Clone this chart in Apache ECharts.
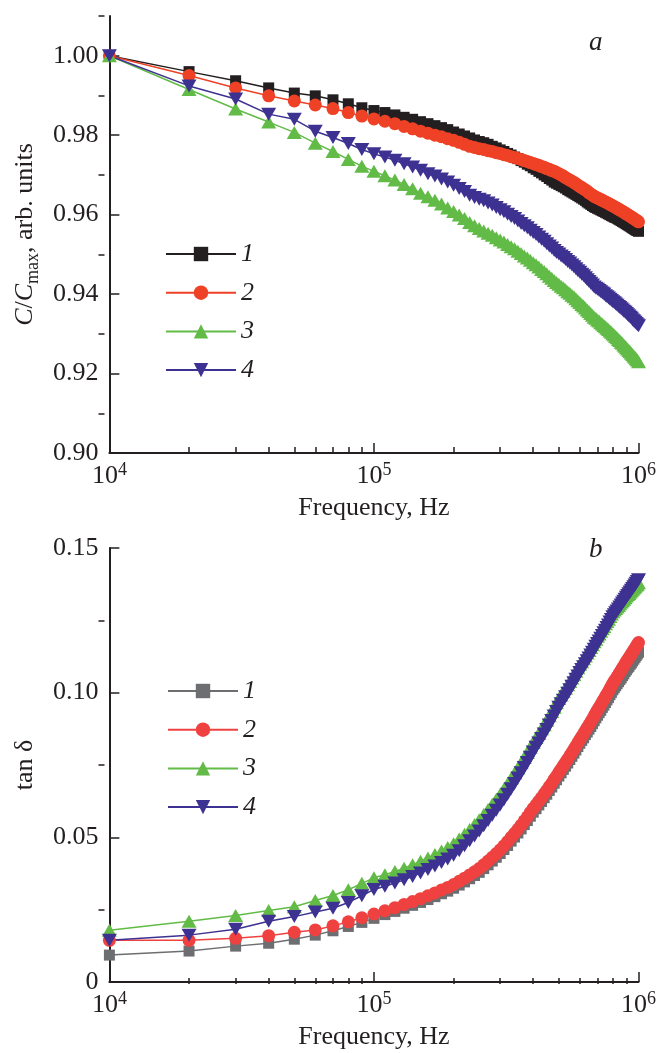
<!DOCTYPE html>
<html><head><meta charset="utf-8">
<script src="https://cdn.jsdelivr.net/npm/echarts@6/dist/echarts.min.js"></script>
<style>html,body{margin:0;padding:0;background:#fff}#c{width:659px;height:1053px}</style>
</head><body><div id="c"></div>
<script>
// Frequency points, Hz
const freq = [10000,20000,30000,40000,50000,60000,70000,80000,90000,100000,
110000,120000,130000,140000,150000,160000,170000,180000,190000,200000,
210000,220000,230000,240000,250000,260000,270000,280000,290000,300000,
310000,320000,330000,340000,350000,360000,370000,380000,390000,400000,
410000,420000,430000,440000,450000,460000,470000,480000,490000,500000,
510000,520000,530000,540000,550000,560000,570000,580000,590000,600000,
610000,620000,630000,640000,650000,660000,670000,680000,690000,700000,
710000,720000,730000,740000,750000,760000,770000,780000,790000,800000,
810000,820000,830000,840000,850000,860000,870000,880000,890000,900000,
910000,920000,930000,940000,950000,960000,970000,980000,990000,1000000];

// Panel a: C/Cmax
const capS1 = [1.000,0.996,0.9937,0.9919,0.9906,0.9899,0.9889,0.9879,0.9869,0.9862,
0.9857,0.9851,0.9845,0.984,0.9834,0.9829,0.9824,0.9819,0.9814,0.9808,
0.9803,0.9798,0.9793,0.9788,0.9784,0.9781,0.9777,0.9772,0.9768,0.9763,
0.9759,0.9754,0.975,0.9745,0.9741,0.9736,0.9732,0.9727,0.9723,0.9718,
0.9714,0.9709,0.9705,0.97,0.9696,0.9691,0.9687,0.9682,0.9679,0.9676,
0.9673,0.967,0.9667,0.9663,0.966,0.9657,0.9654,0.9651,0.9648,0.9645,
0.9642,0.9639,0.9636,0.9632,0.9629,0.9626,0.9623,0.962,0.9618,0.9616,
0.9614,0.9612,0.961,0.9608,0.9606,0.9604,0.9602,0.96,0.9598,0.9596,
0.9594,0.9593,0.9591,0.9589,0.9587,0.9585,0.9583,0.9581,0.9579,0.9577,
0.9575,0.9573,0.9571,0.9569,0.9567,0.9565,0.9563,0.9561,0.956,0.9558];
const capS2 = [1.000,0.995,0.9919,0.9899,0.9886,0.9876,0.9867,0.9857,0.9848,0.9841,
0.9835,0.9829,0.9822,0.9816,0.981,0.9805,0.98,0.9796,0.9791,0.9787,
0.9782,0.9777,0.9772,0.9769,0.9766,0.9764,0.9761,0.9759,0.9756,0.9754,
0.9751,0.9749,0.9746,0.9744,0.9741,0.9739,0.9736,0.9734,0.9731,0.9729,
0.9726,0.9724,0.9721,0.9719,0.9716,0.9714,0.9711,0.9709,0.9706,0.9703,
0.97,0.9697,0.9693,0.969,0.9687,0.9684,0.9681,0.9678,0.9674,0.9671,
0.9668,0.9665,0.9662,0.9659,0.9655,0.9652,0.9649,0.9646,0.9644,0.9642,
0.964,0.9638,0.9636,0.9634,0.9632,0.963,0.9628,0.9626,0.9624,0.9622,
0.962,0.9618,0.9616,0.9614,0.9612,0.961,0.9608,0.9606,0.9604,0.9602,
0.96,0.9598,0.9596,0.9594,0.9592,0.959,0.9588,0.9586,0.9584,0.9582];
const capS3 = [1.000,0.9915,0.9866,0.9833,0.9807,0.978,0.9759,0.9739,0.9722,0.9709,
0.9698,0.9687,0.9676,0.9665,0.9654,0.9645,0.9636,0.9627,0.9617,0.9608,
0.9599,0.959,0.958,0.9572,0.9565,0.9559,0.9553,0.9548,0.9542,0.9536,
0.9531,0.9525,0.9519,0.9514,0.9508,0.9502,0.9496,0.9491,0.9485,0.9479,
0.9474,0.9468,0.9462,0.9457,0.9451,0.9445,0.944,0.9434,0.9429,0.9425,
0.942,0.9416,0.9411,0.9406,0.9402,0.9397,0.9393,0.9388,0.9383,0.9379,
0.9374,0.937,0.9365,0.936,0.9356,0.9351,0.9347,0.9342,0.9339,0.9335,
0.9332,0.9328,0.9325,0.9321,0.9318,0.9314,0.9311,0.9307,0.9304,0.93,
0.9297,0.9293,0.929,0.9286,0.9283,0.9279,0.9276,0.9272,0.9269,0.9265,
0.9262,0.9258,0.9255,0.9251,0.9248,0.9244,0.9241,0.9237,0.9234,0.923];
const capS4 = [1.000,0.9924,0.9891,0.9853,0.984,0.981,0.9794,0.9779,0.9764,0.9753,
0.9745,0.9737,0.9728,0.972,0.9712,0.9703,0.9697,0.969,0.9682,0.9674,
0.9666,0.9658,0.9649,0.9643,0.9639,0.9635,0.9629,0.9624,0.9618,0.9612,
0.9607,0.9601,0.9595,0.959,0.9584,0.9578,0.9572,0.9567,0.9561,0.9555,
0.955,0.9544,0.9538,0.9533,0.9527,0.9521,0.9516,0.951,0.9505,0.9501,
0.9496,0.9492,0.9487,0.9482,0.9478,0.9473,0.9469,0.9464,0.9459,0.9455,
0.945,0.9446,0.9441,0.9436,0.9432,0.9427,0.9423,0.9418,0.9415,0.9412,
0.9409,0.9406,0.9403,0.94,0.9396,0.9393,0.939,0.9387,0.9384,0.9381,
0.9378,0.9375,0.9372,0.9369,0.9366,0.9363,0.936,0.9357,0.9354,0.9351,
0.9348,0.9345,0.9342,0.9339,0.9335,0.9332,0.9329,0.9326,0.9323,0.932];

// Panel b: tan delta
const tanS1 = [0.0093,0.0107,0.0124,0.0134,0.0148,0.0162,0.0177,0.0192,0.0206,0.022,
0.0233,0.0244,0.0255,0.0265,0.0275,0.0285,0.0295,0.0305,0.0314,0.0324,
0.0335,0.0346,0.0357,0.0368,0.0379,0.0392,0.0405,0.0418,0.0431,0.0444,
0.0458,0.0472,0.0487,0.0501,0.0515,0.0529,0.0544,0.0558,0.0573,0.0587,
0.0599,0.0612,0.0624,0.0637,0.0649,0.0662,0.0674,0.0687,0.0699,0.0712,
0.0723,0.0735,0.0746,0.0757,0.0769,0.078,0.0791,0.0802,0.0814,0.0825,
0.0835,0.0844,0.0855,0.0864,0.0874,0.0883,0.0893,0.0903,0.0913,0.0922,
0.0931,0.0939,0.0949,0.0957,0.0966,0.0975,0.0983,0.0993,0.1001,0.101,
0.1017,0.1024,0.1031,0.1038,0.1045,0.1051,0.1059,0.1065,0.1073,0.1079,
0.1086,0.1091,0.1098,0.1103,0.111,0.1116,0.1122,0.1128,0.1134,0.114];
const tanS2 = [0.0144,0.0144,0.0151,0.016,0.0172,0.018,0.0194,0.0208,0.0222,0.0235,
0.0246,0.0257,0.0268,0.0278,0.0288,0.0298,0.0308,0.0318,0.0327,0.0337,
0.0348,0.0359,0.037,0.0381,0.0392,0.0405,0.0418,0.0431,0.0444,0.0457,
0.0471,0.0485,0.05,0.0514,0.0528,0.0542,0.0557,0.0571,0.0586,0.06,
0.0612,0.0625,0.0637,0.065,0.0662,0.0675,0.0687,0.07,0.0712,0.0725,
0.0736,0.0748,0.0759,0.077,0.0782,0.0793,0.0804,0.0815,0.0827,0.0838,
0.0848,0.0858,0.0869,0.0879,0.0889,0.0899,0.0909,0.092,0.093,0.094,
0.0949,0.0958,0.0968,0.0977,0.0986,0.0995,0.1004,0.1014,0.1023,0.1032,
0.104,0.1047,0.1055,0.1062,0.107,0.1077,0.1085,0.1092,0.11,0.1107,
0.1114,0.112,0.1127,0.1133,0.114,0.1147,0.1153,0.116,0.1166,0.1173];
const tanS3 = [0.0179,0.021,0.023,0.0247,0.026,0.0282,0.0299,0.0319,0.0341,0.036,
0.0371,0.0382,0.0393,0.0405,0.0417,0.0429,0.0441,0.0453,0.0465,0.0478,
0.0494,0.0511,0.0527,0.0544,0.0561,0.0579,0.0596,0.0614,0.0632,0.0649,
0.0667,0.0685,0.0704,0.0722,0.074,0.0758,0.0776,0.0793,0.0811,0.0829,
0.0845,0.0859,0.0875,0.0889,0.0905,0.092,0.0935,0.095,0.0965,0.098,
0.0992,0.1004,0.1015,0.1027,0.1039,0.1051,0.1062,0.1074,0.1086,0.1098,
0.1107,0.1117,0.1127,0.1137,0.1146,0.1156,0.1166,0.1176,0.1185,0.1195,
0.1203,0.1212,0.1221,0.1229,0.1238,0.1246,0.1254,0.1263,0.1272,0.128,
0.1286,0.1291,0.1296,0.1301,0.1307,0.1313,0.1318,0.1323,0.1328,0.1334,
0.1339,0.1343,0.1348,0.1352,0.1357,0.1362,0.1366,0.1371,0.1375,0.138];
const tanS4 = [0.0144,0.0162,0.0182,0.021,0.0226,0.0242,0.0255,0.0275,0.0298,0.032,
0.0331,0.0342,0.0353,0.0365,0.0377,0.0389,0.0401,0.0413,0.0425,0.0438,
0.0454,0.0471,0.0488,0.0505,0.0522,0.054,0.0558,0.0576,0.0594,0.0612,
0.063,0.0649,0.0668,0.0686,0.0705,0.0723,0.0741,0.0759,0.0777,0.0795,
0.0811,0.0826,0.0842,0.0857,0.0873,0.0888,0.0904,0.0919,0.0935,0.095,
0.0962,0.0974,0.0986,0.0998,0.101,0.1022,0.1034,0.1046,0.1058,0.107,
0.108,0.109,0.11,0.111,0.112,0.113,0.114,0.115,0.116,0.117,
0.1179,0.1188,0.1198,0.1207,0.1216,0.1225,0.1234,0.1244,0.1253,0.1262,
0.1269,0.1276,0.1282,0.1289,0.1296,0.1303,0.131,0.1316,0.1323,0.133,
0.1336,0.1342,0.1348,0.1354,0.136,0.1366,0.1372,0.1378,0.1384,0.139];

// Tick values
const xMajor = [1e4, 1e5, 1e6];
const xMinor = [2e4,3e4,4e4,5e4,6e4,7e4,8e4,9e4,2e5,3e5,4e5,5e5,6e5,7e5,8e5,9e5];
const capMajor = [0.90,0.92,0.94,0.96,0.98,1.00];
const capMinor = [0.91,0.93,0.95,0.97,0.99,1.01];
const tanMajor = [0,0.05,0.10,0.15];
const tanMinor = [0.025,0.075,0.125];

const FONT = '"Liberation Serif","Times New Roman",serif';
const INK = '#231f20';
const FS = 26;
const G1 = {left:100, top:16, width:540, height:437};
const G2 = {left:100, top:548, width:540, height:436};

function xMain(grid, name){
  return {type:'log', logBase:10, gridIndex:grid, min:1e4, max:1e6, position:'bottom',
    axisLine:{show:true, onZero:false, lineStyle:{color:INK, width:2}},
    axisTick:{show:true, inside:true, length:10, customValues:xMajor, lineStyle:{color:INK, width:1.5}},
    minorTick:{show:false}, splitLine:{show:false},
    axisLabel:{show:true, customValues:xMajor, margin:8,
      formatter:v=>'{b|10}{s|'+Math.round(Math.log10(v))+'}',
      rich:{b:{fontFamily:FONT, fontSize:FS, color:INK, lineHeight:28, verticalAlign:'bottom'},
            s:{fontFamily:FONT, fontSize:18, color:INK, lineHeight:17, verticalAlign:'top'}}},
    name:name, nameLocation:'middle', nameGap:40,
    nameTextStyle:{fontFamily:FONT, fontSize:FS, color:INK, lineHeight:30}};
}
function xMinorAx(grid, h){
  return {type:'log', logBase:10, gridIndex:grid, min:1e4, max:1e6, position:'top', offset:-h,
    axisLine:{show:false},
    axisTick:{show:true, inside:false, length:6, customValues:xMinor, lineStyle:{color:INK, width:1.5}},
    axisLabel:{show:false}, splitLine:{show:false}};
}
function yMain(grid, min, max, major, fmt, name, gap, nameRich){
  return {type:'value', gridIndex:grid, min:min, max:max, position:'left',
    axisLine:{show:true, onZero:false, lineStyle:{color:INK, width:2}},
    axisTick:{show:true, inside:true, length:10, customValues:major, lineStyle:{color:INK, width:1.5}},
    axisLabel:{show:true, customValues:major, margin:11, formatter:fmt,
      fontFamily:FONT, fontSize:FS, color:INK},
    splitLine:{show:false},
    name:name, nameLocation:'middle', nameRotate:90, nameGap:gap,
    nameTextStyle:Object.assign({fontFamily:FONT, fontSize:FS, color:INK, lineHeight:34}, nameRich||{})};
}
function yMinorAx(grid, min, max, minor, w){
  return {type:'value', gridIndex:grid, min:min, max:max, position:'right', offset:-w,
    axisLine:{show:false},
    axisTick:{show:true, inside:false, length:6, customValues:minor, lineStyle:{color:INK, width:1.5}},
    axisLabel:{show:false}, splitLine:{show:false}};
}

function ser(name, vals, color, symbol, size, rot, xi, yi){
  return {type:'line', name:name, xAxisIndex:xi, yAxisIndex:yi,
    data: freq.map((f,i)=>[f, vals[i]]),
    symbol:symbol, symbolSize:size, symbolRotate:rot, showSymbol:true, showAllSymbol:true,
    lineStyle:{color:color, width:1.5}, itemStyle:{color:color}, animation:false, clip:true};
}

const C = {k:'#231f20', r:'#ee4125', g:'#62bb47', b:'#3d3191', gray:'#6d6e71', r2:'#ef4240'};
const legText = {fontFamily:FONT, fontSize:FS, fontStyle:'italic', color:INK, lineHeight:24};

const option = {
  backgroundColor:'#fff',
  animation:false,
  grid:[Object.assign({containLabel:false}, G1), Object.assign({containLabel:false}, G2)],
  xAxis:[xMain(0,'Frequency, Hz'), xMinorAx(0, G1.height), xMain(1,'Frequency, Hz'), xMinorAx(1, G2.height)],
  yAxis:[
    yMain(0, 0.90, 1.01, capMajor, v=>v.toFixed(2), '{i|C}{n|/}{i|C}{s|max}{n|, arb. units}', 48,
      {rich:{i:{fontFamily:FONT, fontSize:FS, fontStyle:'italic', color:INK, lineHeight:34},
             n:{fontFamily:FONT, fontSize:FS, color:INK, lineHeight:34},
             s:{fontFamily:FONT, fontSize:18, color:INK, lineHeight:17, verticalAlign:'bottom'}}}),
    yMinorAx(0, 0.90, 1.01, capMinor, G1.width),
    yMain(1, 0, 0.15, tanMajor, v=>(v===0?'0':v.toFixed(2)), 'tan δ', 62),
    yMinorAx(1, 0, 0.15, tanMinor, G2.width)
  ],
  legend:[
    {data:['a1','a2','a3','a4'], orient:'vertical', left:160, top:236, itemWidth:70, itemHeight:18, itemGap:12.7,
     selectedMode:false, formatter:n=>n.slice(1), textStyle:legText},
    {data:['b1','b2','b3','b4'], orient:'vertical', left:162, top:673, itemWidth:70, itemHeight:18, itemGap:12.7,
     selectedMode:false, formatter:n=>n.slice(1), textStyle:legText}
  ],
  graphic:[
    {type:'text', left:589, top:29, style:{text:'a', font:'italic 27px "Liberation Serif"', fill:INK}},
    {type:'text', left:589, top:536, style:{text:'b', font:'italic 27px "Liberation Serif"', fill:INK}}
  ],
  series:[
    ser('a1', capS1, C.k, 'rect', 11, 0, 0, 0),
    ser('a2', capS2, C.r, 'circle', 13, 0, 0, 0),
    ser('a3', capS3, C.g, 'triangle', [15,13], 0, 0, 0),
    ser('a4', capS4, C.b, 'triangle', [15,13], 180, 0, 0),
    ser('b1', tanS1, C.gray, 'rect', 11, 0, 2, 2),
    ser('b2', tanS2, C.r2, 'circle', 13, 0, 2, 2),
    ser('b3', tanS3, C.g, 'triangle', [15,13], 0, 2, 2),
    ser('b4', tanS4, C.b, 'triangle', [15,13], 180, 2, 2)
  ]
};
const chart = echarts.init(document.getElementById('c'), null, {renderer:'canvas'});
chart.setOption(option);
</script></body></html>
